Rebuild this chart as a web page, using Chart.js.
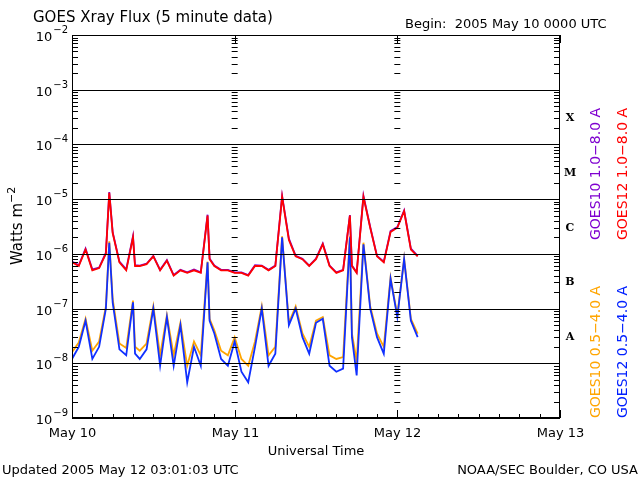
<!DOCTYPE html>
<html><head><meta charset="utf-8">
<script src="https://cdn.jsdelivr.net/npm/chart.js@4"></script>
<style>html,body{margin:0;padding:0;background:#fff}#w{width:640px;height:480px}</style>
</head><body><div id="w"><canvas id="c"></canvas></div>
<script>
// hours since 2005 May 10 00:00 UTC
const hours = [0,1,2,3,4,5,5.5,6,7,8,9,9.3,10,11,12,13,14,15,16,17,18,19,20,20.3,21,22,23,24,25,26,27,28,29,30,31,32,33,34,35,36,37,38,39,40,41,41.3,42,43,44,45,46,47,48,49,50,51];
const goes12Long = [7e-7,6e-7,1.2e-6,5e-7,5.5e-7,1e-6,1.3e-5,2.4e-6,7e-7,5e-7,2e-6,6e-7,6e-7,6.5e-7,9e-7,5e-7,7.5e-7,4e-7,5e-7,4.5e-7,5e-7,4.5e-7,5e-6,8e-7,6e-7,5e-7,5e-7,4.5e-7,4.5e-7,4e-7,6e-7,6e-7,5e-7,6e-7,1.1e-5,1.8e-6,9e-7,8e-7,6e-7,8e-7,1.5e-6,6e-7,4.5e-7,5e-7,5e-6,6e-7,4.5e-7,1.1e-5,3e-6,9e-7,7e-7,2.5e-6,3e-6,6e-6,1.2e-6,9e-7];
const goes10Long = [7.2e-7,6.2e-7,1.25e-6,5.2e-7,5.6e-7,1.05e-6,1.35e-5,2.5e-6,7.2e-7,5.2e-7,2.1e-6,6.2e-7,6.1e-7,6.6e-7,9.2e-7,5.1e-7,7.7e-7,4.1e-7,5.1e-7,4.6e-7,5.2e-7,4.6e-7,5.2e-6,8.2e-7,6.1e-7,5.1e-7,5.1e-7,4.6e-7,4.6e-7,4.1e-7,6.2e-7,6.1e-7,5.1e-7,6.1e-7,1.15e-5,1.9e-6,9.2e-7,8.1e-7,6.1e-7,8.2e-7,1.55e-6,6.1e-7,4.6e-7,5.1e-7,5.1e-6,6.1e-7,4.6e-7,1.15e-5,3.1e-6,9.2e-7,7.2e-7,2.6e-6,3.1e-6,6.2e-6,1.25e-6,9.2e-7];
const goes12Short = [1.2e-8,2e-8,6e-8,1.2e-8,2e-8,1e-7,1.6e-6,1.3e-7,1.8e-8,1.4e-8,1.3e-7,1.5e-8,1.2e-8,1.8e-8,1e-7,9e-9,7e-8,9e-9,5e-8,4.5e-9,2e-8,9e-9,7e-7,6e-8,3.5e-8,1.2e-8,9e-9,2.5e-8,7e-9,4.5e-9,2e-8,1e-7,9e-9,1.5e-8,2e-6,5e-8,1e-7,3e-8,1.5e-8,5.5e-8,6.5e-8,9e-9,7e-9,8e-9,2e-6,3e-8,6e-9,1.5e-6,1e-7,3e-8,1.5e-8,3.5e-7,7e-8,8e-7,6e-8,3e-8];
const goes10Short = [1.6e-8,2.4e-8,6.5e-8,1.7e-8,2.5e-8,1.1e-7,1.7e-6,1.5e-7,2.3e-8,1.9e-8,1.4e-7,2e-8,1.7e-8,2.3e-8,1.1e-7,1.4e-8,7.5e-8,1.4e-8,5.5e-8,9e-9,2.5e-8,1.4e-8,7.2e-7,6.5e-8,4e-8,1.7e-8,1.4e-8,3e-8,1.2e-8,9e-9,2.5e-8,1.1e-7,1.4e-8,2e-8,2.1e-6,5.5e-8,1.1e-7,3.5e-8,2e-8,6e-8,7e-8,1.4e-8,1.2e-8,1.3e-8,2.1e-6,3.5e-8,1.1e-8,1.6e-6,1.1e-7,3.5e-8,2e-8,3.7e-7,7.5e-8,8.2e-7,6.5e-8,3.5e-8];
const dayTicks = [0,24,48,72];
const dayLabels = ['May 10','May 11','May 12','May 13'];
const decades = [-9,-8,-7,-6,-5,-4,-3,-2];
const classes = [['A',-8],['B',-7],['C',-6],['M',-5],['X',-4]];

const pts = a => a.map((v,i)=>({x:hours[i],y:v}));
const ds = (d,c)=>({data:pts(d),borderColor:c,borderWidth:1.8,pointRadius:0,tension:0,fill:false});

const deco = {
  id:'deco',
  afterDraw(ch){
    const c=ch.ctx, xs=ch.scales.x, ys=ch.scales.y, a=ch.chartArea;
    c.save();
    c.strokeStyle='#000'; c.lineWidth=1;
    decades.forEach(d=>{const y=Math.round(ys.getPixelForValue(Math.pow(10,d)))+0.5;
      c.beginPath();c.moveTo(a.left,y);c.lineTo(a.right,y);c.stroke();});
    c.strokeRect(a.left+0.5,a.top+0.5,a.right-a.left-1,a.bottom-a.top-1);
    decades.forEach(d=>{ if(d>=-2) return;
      for(let m=2;m<=9;m++){const y=Math.round(ys.getPixelForValue(m*Math.pow(10,d)))+0.5;
        [[a.left,a.left+6],[a.right-6,a.right]].forEach(s=>{c.beginPath();c.moveTo(s[0],y);c.lineTo(s[1],y);c.stroke();});
        [24,48].forEach(h=>{const x=xs.getPixelForValue(h);c.beginPath();c.moveTo(x-3,y);c.lineTo(x+3,y);c.stroke();});
      }});
    dayTicks.forEach((h,i)=>{const x=Math.round(xs.getPixelForValue(h))+0.5;
      c.beginPath();c.moveTo(x,a.bottom);c.lineTo(x,a.bottom-8);c.stroke();
      c.beginPath();c.moveTo(x,a.top);c.lineTo(x,a.top+8);c.stroke();
      c.fillStyle='#000';c.font='13px "DejaVu Sans"';c.textAlign='center';c.textBaseline='top';
      c.fillText(dayLabels[i],x,a.bottom+9);});
    for(let h=3;h<72;h+=3){ if(h%24===0) continue; const x=Math.round(xs.getPixelForValue(h))+0.5;
      c.beginPath();c.moveTo(x,a.bottom);c.lineTo(x,a.bottom-4);c.stroke();}
    c.fillStyle='#000';c.textBaseline='alphabetic';
    decades.forEach(d=>{const y=ys.getPixelForValue(Math.pow(10,d));
      c.textAlign='right';
      const e=String(d).replace('-','\u2212');
      c.font='10px "DejaVu Sans"';const ew=c.measureText(e).width;
      c.fillText(e,a.left-4,y-2);
      c.font='13px "DejaVu Sans"';c.fillText('10',a.left-5-ew,y+6);});
    c.font='bold 11px "DejaVu Serif"';c.textAlign='center';
    classes.forEach(([t,d])=>{const y=ys.getPixelForValue(Math.pow(10,d+0.5));c.fillText(t,a.right+10,y+4);});
    c.font='15px "DejaVu Sans"';c.textAlign='left';c.fillText('GOES Xray Flux (5 minute data)',33,22);
    c.font='13px "DejaVu Sans"';c.fillText('Begin:  2005 May 10 0000 UTC',405,28);
    c.textAlign='center';c.fillText('Universal Time',316,455);
    c.textAlign='left';c.fillText('Updated 2005 May 12 03:01:03 UTC',2,474);
    c.textAlign='right';c.fillText('NOAA/SEC Boulder, CO USA',638,474);
    c.save();c.translate(22,228);c.rotate(-Math.PI/2);c.textAlign='center';c.font='15px "DejaVu Sans"';
    c.fillText('Watts m',-6,0);c.font='11px "DejaVu Sans"';c.textAlign='left';c.fillText('\u22122',25,-7);c.restore();
    const leg=[['GOES10 1.0\u22128.0 A','#7f00d0',600,240],['GOES12 1.0\u22128.0 A','#ff0000',627,240],
               ['GOES10 0.5\u22124.0 A','#ffa500',600,418],['GOES12 0.5\u22124.0 A','#0020ff',627,418]];
    c.font='14px "DejaVu Sans"';
    leg.forEach(([t,col,x,y])=>{c.save();c.translate(x,y);c.rotate(-Math.PI/2);c.textAlign='left';c.fillStyle=col;c.fillText(t,0,0);c.restore();});
    c.restore();
  }
};

new Chart(document.getElementById('c'),{
  type:'line',
  data:{datasets:[ds(goes12Long,'#ff0000'),ds(goes12Short,'#1030ff'),ds(goes10Long,'#7f00d0'),ds(goes10Short,'#ffa500')]},
  options:{responsive:true,maintainAspectRatio:false,animation:false,
    layout:{padding:{left:72,right:80,top:35,bottom:62}},
    plugins:{legend:{display:false},tooltip:{enabled:false}},
    scales:{
      x:{type:'linear',min:0,max:72,display:false},
      y:{type:'logarithmic',min:1e-9,max:1e-2,display:false}
    }},
  plugins:[deco]
});
</script></body></html>
